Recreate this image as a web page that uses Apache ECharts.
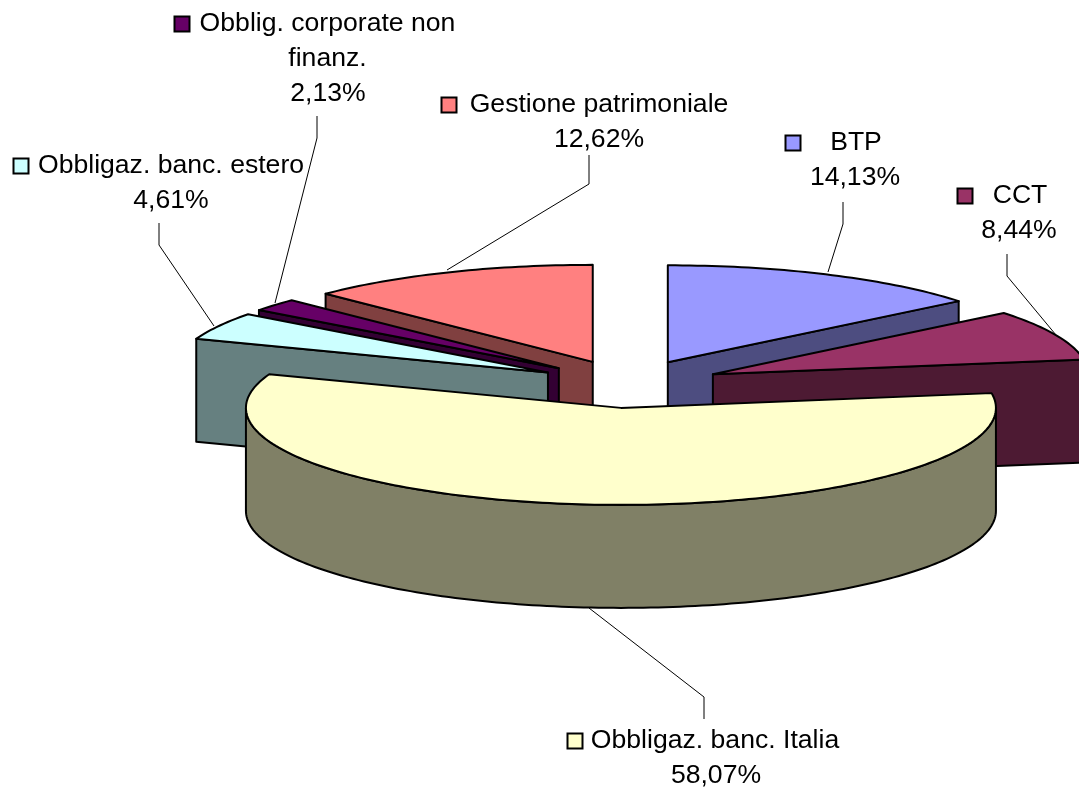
<!DOCTYPE html>
<html><head><meta charset="utf-8">
<style>html,body{margin:0;padding:0;background:#fff}#c{width:1079px;height:791px}</style>
<script src="https://cdn.jsdelivr.net/npm/echarts@6/dist/echarts.min.js"></script>
</head><body><div id="c"></div>
<script>
// --- data ---
const categories = ['BTP','CCT','Obbligaz. banc. Italia','Obbligaz. banc. estero','Obblig. corporate non finanz.','Gestione patrimoniale'];
const shares = [14.13, 8.44, 58.07, 4.61, 2.13, 12.62];
const valueLabels = ['14,13%','8,44%','58,07%','4,61%','2,13%','12,62%'];
// --- styles ---
const topColors  = ['#9999FF','#993366','#FFFFCC','#CCFFFF','#660066','#FF8080'];
const sideColors = ['#4D4D80','#4D1A33','#808066','#668080','#330033','#804040'];
const paintRank  = [3,4,5,2,1,0];
// --- 3D pie geometry ---
const pie = {cx:629.2, cy:384, rx:375, ry:97, depth:103, explodeX:92, explodeY:24, tilt:-1};
// --- label layout ---
const labelLayout = [
  {lines:['BTP'], x:856, y:143, keyX:793, keyY:143, valueX:855, leader:[[843,202],[843,224],[828,272]]},
  {lines:['CCT'], x:1020, y:196, keyX:965, keyY:196, valueX:1019, leader:[[1007,254],[1007,276],[1056,335]]},
  {lines:['Obbligaz. banc. Italia'], x:715, y:741, keyX:575, keyY:741, valueX:716, leader:[[704,719],[704,697],[589,608]]},
  {lines:['Obbligaz. banc. estero'], x:171, y:166, keyX:21, keyY:166, valueX:171, leader:[[159,223],[159,245],[214,326]]},
  {lines:['Obblig. corporate non','finanz.'], x:327.5, y:24, keyX:182, keyY:24, valueX:328, leader:[[317,116],[317,138],[275,303]]},
  {lines:['Gestione patrimoniale'], x:599, y:105, keyX:449, keyY:105, valueX:599, leader:[[589,155],[589,184],[447,270]]}
];
const total = shares.reduce((a,b)=>a+b,0);
const FONT = '26.6px "Liberation Sans", Arial, sans-serif';
const LINE = 34.8;

function renderItem(params, api){
  const i = params.dataIndex;
  const v = api.value(0);
  let before = 0;
  for(let k=0;k<i;k++) before += shares[k];
  const a0 = before/total*Math.PI*2, a1 = (before+v)/total*Math.PI*2, mid=(a0+a1)/2;
  const cx = pie.cx + pie.explodeX*Math.sin(mid) + pie.tilt*Math.cos(mid), cy = pie.cy - pie.explodeY*Math.cos(mid);
  const pt = (a,dy)=>[cx+pie.rx*Math.sin(a), cy-pie.ry*Math.cos(a)+(dy||0)];
  const arc = (s,e,dy)=>{const n=Math.max(2,Math.ceil(Math.abs(e-s)/0.02));const r=[];for(let j=0;j<=n;j++)r.push(pt(s+(e-s)*j/n,dy));return r;};
  const base = paintRank[i]*10;
  const side = sideColors[i], top = topColors[i];
  const sty = f=>({fill:f,stroke:'#000',lineWidth:2,lineJoin:'round'});
  const children = [];
  const s0 = Math.max(a0,Math.PI/2), s1 = Math.min(a1,Math.PI*1.5);
  if(s1>s0){
    const upper = arc(s0,s1,0), lower = arc(s1,s0,pie.depth);
    children.push({type:'polygon',z2:base,shape:{points:upper.concat(lower)},style:sty(side)});
  }
  // radial faces that look toward the viewer
  const face = a=>{const p=pt(a,0);return [[cx,cy],p,[p[0],p[1]+pie.depth],[cx,cy+pie.depth]];};
  if(a1<Math.PI) children.push({type:'polygon',z2:base+1,shape:{points:face(a1)},style:sty(side)});
  if(a0>Math.PI) children.push({type:'polygon',z2:base+1,shape:{points:face(a0)},style:sty(side)});
  const topPts = [[cx,cy]].concat(arc(a0,a1,0));
  children.push({type:'polygon',z2:base+2,shape:{points:topPts},style:sty(top)});
  return {type:'group',children};
}

const graphics = [];
categories.forEach((name,i)=>{
  const L = labelLayout[i];
  graphics.push({type:'polyline',silent:true,shape:{points:L.leader},style:{stroke:'#000',lineWidth:1,fill:null}});
  graphics.push({type:'rect',silent:true,shape:{x:L.keyX-7.5,y:L.keyY-7.5,width:15,height:15},style:{fill:topColors[i],stroke:'#000',lineWidth:2}});
  L.lines.forEach((t,j)=>graphics.push({type:'text',silent:true,x:L.x,y:L.y+j*LINE,style:{text:t,font:FONT,fill:'#000',align:'center',verticalAlign:'middle'}}));
  graphics.push({type:'text',silent:true,x:L.valueX,y:L.y+L.lines.length*LINE,style:{text:valueLabels[i],font:FONT,fill:'#000',align:'center',verticalAlign:'middle'}});
});

const chart = echarts.init(document.getElementById('c'),null,{renderer:'canvas'});
chart.setOption({
  animation:false,
  backgroundColor:'#fff',
  series:[{type:'custom',coordinateSystem:'none',renderItem,clip:false,silent:true,
    data:shares.map((v,i)=>({name:categories[i],value:[v]}))}],
  graphic:{elements:graphics}
});
</script></body></html>
